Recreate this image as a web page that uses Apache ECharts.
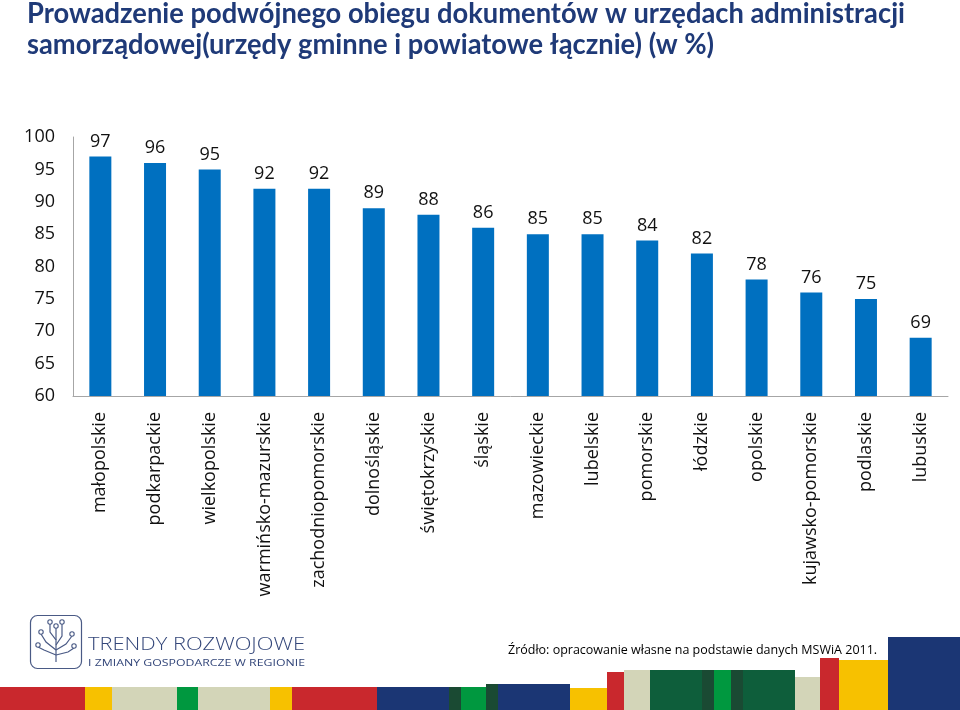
<!DOCTYPE html>
<html>
<head>
<meta charset="utf-8">
<script src="https://cdn.jsdelivr.net/npm/echarts@6/dist/echarts.min.js"></script>
<style>html,body{margin:0;padding:0;background:#fff}#c{width:960px;height:710px}</style>
</head>
<body>
<div id="c"></div>
<script>
const titleLines = ["Prowadzenie podwójnego obiegu dokumentów w urzędach administracji", "samorządowej(urzędy gminne i powiatowe łącznie) (w %)"];
const categories = ["małopolskie","podkarpackie","wielkopolskie","warmińsko-mazurskie","zachodniopomorskie","dolnośląskie","świętokrzyskie","śląskie","mazowieckie","lubelskie","pomorskie","łódzkie","opolskie","kujawsko-pomorskie","podlaskie","lubuskie"];
const values = [97,96,95,92,92,89,88,86,85,85,84,82,78,76,75,69];
const yMin = 60, yMax = 100, yStep = 5;
const sourceText = "Źródło: opracowanie własne na podstawie danych MSWiA 2011.";
const logoLine1 = "TRENDY ROZWOJOWE";
const logoLine2 = "I ZMIANY GOSPODARCZE W REGIONIE";

const mctx = document.createElement('canvas').getContext('2d');
function measure(text, font){ mctx.font = font; return mctx.measureText(text).width; }

const C = {red:'#C9282D', yel:'#F7C100', bei:'#D3D5B8', grn:'#00983F', blu:'#1B3674', dgr:'#0E5E3B', xgr:'#1A4A33'};
const stripes = [
  [0,85,687,'red'],[85,112,687,'yel'],[112,177,687,'bei'],[177,198,687,'grn'],[198,270,687,'bei'],
  [270,292,687,'yel'],[292,377,687,'red'],[377,449,687,'blu'],[449,461,687,'xgr'],[461,486,687,'grn'],
  [486,498,684,'xgr'],[498,570,684,'blu'],[570,607,688,'yel'],[607,624,672,'red'],[624,650,670,'bei'],
  [650,702,670,'dgr'],[702,714,670,'xgr'],[714,731,670,'grn'],[731,743,670,'xgr'],[743,795,670,'dgr'],
  [795,820,677,'bei'],[820,839,658,'red'],[839,888,660,'yel'],[888,960,637,'blu']
];
const graphics = stripes.map(s => ({type:'rect', shape:{x:s[0], y:s[2], width:s[1]-s[0], height:710-s[2]}, style:{fill:C[s[3]]}, silent:true}));

// title (Calibri-like condensed look via horizontal scaling)
const titleFont = 'bold 28px Lato, "Open Sans", sans-serif';
const tScale = 878 / measure(titleLines[0], titleFont);
titleLines.forEach((t, i) => {
  graphics.push({type:'text', x:27, y:[14,45][i], scaleX:tScale, z:10,
    style:{text:t, font:titleFont, fill:'#1F3A78', verticalAlign:'middle', align:'left'}});
});

// logo
const lc = '#4A5A85';
graphics.push({type:'rect', shape:{x:30.5, y:615.5, width:51, height:53, r:7}, style:{fill:'none', stroke:lc, lineWidth:1.2}});
const branches = [
  [[56,662],[56,640],[50,632],[50,624]],
  [[56,645],[62,636],[62,624]],
  [[56,650],[46,642],[41,634]],
  [[56,650],[66,644],[72,636]],
  [[56,655],[44,650],[38,647]],
  [[56,655],[68,652],[74,648]],
  [[56,640],[56,628]]
];
branches.forEach(b => {
  graphics.push({type:'polyline', shape:{points:b}, style:{stroke:lc, lineWidth:1.2, fill:'none'}});
  const e = b[b.length-1];
  graphics.push({type:'circle', shape:{cx:e[0], cy:e[1]-2, r:2.2}, style:{fill:'#fff', stroke:lc, lineWidth:1.1}});
});
const l1Font = '300 18px "Open Sans", sans-serif';
const l2Font = '9.5px "Open Sans", sans-serif';
graphics.push({type:'text', x:88, y:644.5, scaleX:217/measure(logoLine1, l1Font), style:{text:logoLine1, font:l1Font, fill:'#34477A', verticalAlign:'middle'}});
graphics.push({type:'text', x:88, y:663, scaleX:217/measure(logoLine2, l2Font), style:{text:logoLine2, font:l2Font, fill:'#34477A', verticalAlign:'middle'}});
graphics.push({type:'text', left:508, top:644, style:{text:sourceText, font:'12.5px "Open Sans", sans-serif', fill:'#000'}});

const chart = echarts.init(document.getElementById('c'), null, {renderer:'canvas'});
chart.setOption({
  backgroundColor:'#fff',
  animation:false,
  grid:{left:73, right:12, top:137, bottom:314, containLabel:false},
  xAxis:{
    type:'category', data:categories,
    axisLine:{lineStyle:{color:'#A6A6A6', width:1}},
    axisTick:{show:false},
    axisLabel:{rotate:90, margin:16, interval:0, fontFamily:'"Open Sans", sans-serif', fontSize:18, color:'#111'}
  },
  yAxis:{
    type:'value', min:yMin, max:yMax, interval:yStep,
    axisLine:{show:true, lineStyle:{color:'#A6A6A6', width:1}},
    axisTick:{show:false},
    splitLine:{show:false},
    axisLabel:{margin:18, fontFamily:'"Open Sans", sans-serif', fontSize:18, color:'#111'}
  },
  series:[{
    type:'bar', data:values, barWidth:22,
    itemStyle:{color:'#0070C0'},
    label:{show:true, position:'top', distance:6, fontFamily:'"Open Sans", sans-serif', fontSize:18, color:'#111'}
  }],
  graphic: graphics
});
</script>
</body>
</html>
